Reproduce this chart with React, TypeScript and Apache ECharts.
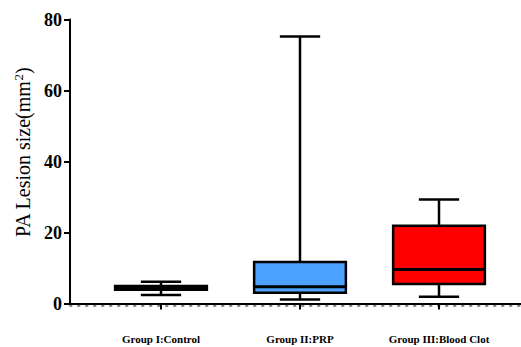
import React, { useEffect, useRef } from "react";
import * as echarts from "echarts";

const categories = ["Group I:Control", "Group II:PRP", "Group III:Blood Clot"];
const whiskerMin = [2.4, 1.1, 1.9];
const q1 = [3.9, 3.0, 5.5];
const median = [4.3, 4.7, 9.6];
const q3 = [4.9, 11.7, 21.9];
const whiskerMax = [6.1, 75.2, 29.3];
const boxColors = ["#000000", "#4da3ff", "#ff0000"];
const yMin = 0;
const yMax = 80;
const yInterval = 20;

const SERIF = "Liberation Serif";

export default function App() {
  const ref = useRef<HTMLDivElement>(null);
  useEffect(() => {
    if (!ref.current) return;
    const chart = echarts.init(ref.current, null, { renderer: "svg" });
    const option: any = {
      animation: false,
      backgroundColor: "#ffffff",
      grid: [
        { left: 91.5, width: 417, top: 19.5, height: 284 },
        { left: 70, right: 0, top: 19.5, height: 284 },
      ],
      xAxis: [
        {
          type: "category",
          gridIndex: 0,
          position: "bottom",
          data: categories,
          axisLine: { show: false },
          axisTick: { show: true, alignWithLabel: true, length: 6, lineStyle: { color: "#000", width: 2 } },
          axisLabel: { margin: 30, fontFamily: SERIF, fontWeight: "bold", fontSize: 11, color: "#000" },
          splitLine: { show: false },
        },
        {
          type: "value",
          gridIndex: 1,
          position: "bottom",
          min: 0,
          max: 1,
          axisLine: { show: true, lineStyle: { color: "#000", width: 2 } },
          axisTick: { show: false },
          axisLabel: { show: false },
          splitLine: { show: false },
        },
        {
          type: "value",
          gridIndex: 1,
          position: "bottom",
          min: 0,
          max: 1,
          offset: 2.5,
          axisLine: { show: true, lineStyle: { color: "#888", width: 2, type: [1.5, 6.5] } },
          axisTick: { show: false },
          axisLabel: { show: false },
          splitLine: { show: false },
        },
      ],
      yAxis: [
        { type: "value", gridIndex: 0, min: yMin, max: yMax, show: false },
        {
          type: "value",
          gridIndex: 1,
          min: yMin,
          max: yMax,
          interval: yInterval,
          axisLine: { show: true, lineStyle: { color: "#000", width: 2 } },
          axisTick: { show: true, length: 6, lineStyle: { color: "#000", width: 2 } },
          axisLabel: { fontFamily: SERIF, fontWeight: "bold", fontSize: 18, color: "#000", margin: 8 },
          splitLine: { show: false },
          name: "{a|PA Lesion size(mm}{s|2}{a|)}",
          nameLocation: "middle",
          nameGap: 37,
          nameTextStyle: {
            padding: [0, 0, 0, 18],
            rich: {
              a: { fontFamily: SERIF, fontWeight: "normal", fontSize: 20, color: "#000" },
              s: { fontFamily: SERIF, fontWeight: "normal", fontSize: 13, color: "#000", verticalAlign: "top", padding: [0, 0, 8, 0] },
            },
          },
        },
      ],
      series: [
        {
          type: "custom",
          xAxisIndex: 0,
          yAxisIndex: 0,
          data: categories.map((c, i) => [i, whiskerMin[i], q1[i], median[i], q3[i], whiskerMax[i]]),
          encode: { x: 0, y: [1, 2, 3, 4, 5] },
          renderItem: (params: any, api: any) => {
            const x = api.value(0);
            const band = api.size([1, 0])[0];
            const pMin = api.coord([x, api.value(1)]);
            const pQ1 = api.coord([x, api.value(2)]);
            const pMed = api.coord([x, api.value(3)]);
            const pQ3 = api.coord([x, api.value(4)]);
            const pMax = api.coord([x, api.value(5)]);
            const bw = band * 0.66;
            const cw = band * 0.29;
            const cx = pMed[0];
            const lineStyle = { stroke: "#000", lineWidth: 2.5 };
            return {
              type: "group",
              children: [
                { type: "line", shape: { x1: cx, y1: pMax[1], x2: cx, y2: pQ3[1] }, style: lineStyle },
                { type: "line", shape: { x1: cx, y1: pQ1[1], x2: cx, y2: pMin[1] }, style: lineStyle },
                { type: "line", shape: { x1: cx - cw / 2, y1: pMax[1], x2: cx + cw / 2, y2: pMax[1] }, style: lineStyle },
                { type: "line", shape: { x1: cx - cw / 2, y1: pMin[1], x2: cx + cw / 2, y2: pMin[1] }, style: lineStyle },
                {
                  type: "rect",
                  shape: { x: cx - bw / 2, y: pQ3[1], width: bw, height: pQ1[1] - pQ3[1] },
                  style: { fill: boxColors[params.dataIndex], stroke: "#000", lineWidth: 2.5 },
                },
                { type: "line", shape: { x1: cx - bw / 2, y1: pMed[1], x2: cx + bw / 2, y2: pMed[1] }, style: { stroke: "#000", lineWidth: 3 } },
              ],
            };
          },
        },
      ],
    };
    chart.setOption(option);
    return () => chart.dispose();
  }, []);
  return <div ref={ref} style={{ position: "fixed", left: 0, top: 0, width: 521, height: 347 }} />;
}
